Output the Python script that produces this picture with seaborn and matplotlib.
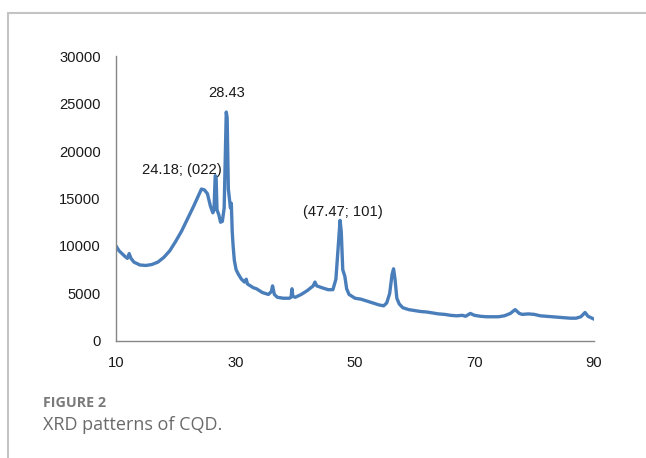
import matplotlib
matplotlib.use("Agg")
import matplotlib.pyplot as plt
from matplotlib.lines import Line2D
import seaborn as sns
import pandas as pd

two_theta = [10.0, 10.5, 11.0, 11.5, 11.9, 12.2, 12.5, 13.0, 14.0, 15.0, 16.0, 17.0, 18.0, 19.0,
             20.0, 21.0, 22.0, 23.0, 23.8, 24.3, 24.8, 25.3, 25.8, 26.2, 26.4, 26.6, 26.75, 26.9,
             27.2, 27.5, 27.8, 28.1, 28.3, 28.45, 28.6, 28.8, 29.0, 29.15, 29.3, 29.45, 29.6, 29.8,
             30.1, 30.5, 31.0, 31.5, 31.8, 32.0, 32.5, 33.0, 33.5, 34.0, 34.5, 35.0, 35.5, 36.0,
             36.2, 36.5, 37.0, 38.0, 39.0, 39.3, 39.45, 39.6, 40.0, 41.0, 42.0, 43.0, 43.3, 43.6,
             44.5, 45.5, 46.3, 46.8, 47.2, 47.5, 47.7, 47.95, 48.3, 48.6, 49.0, 50.0, 51.0, 52.0,
             53.0, 54.0, 54.8, 55.3, 55.8, 56.2, 56.45, 56.7, 57.0, 57.4, 58.0, 59.0, 60.0, 61.0,
             62.0, 63.0, 64.0, 65.0, 66.0, 67.0, 68.0, 68.5, 69.3, 70.0, 71.0, 72.0, 73.0, 74.0,
             75.0, 76.0, 76.8, 77.5, 78.0, 79.0, 80.0, 81.0, 82.0, 83.0, 84.0, 85.0, 86.0, 87.0,
             87.8, 88.5, 89.0, 89.5, 90.0]
intensity = [10000, 9500, 9200, 8900, 8700, 9200, 8700, 8300, 8000, 7950, 8050, 8300, 8800, 9500,
             10500, 11600, 12900, 14200, 15300, 16000, 15900, 15500, 14200, 13500, 13800, 17400, 17300, 13800,
             13300, 12500, 12600, 14000, 20000, 24100, 23500, 16000, 14800, 14000, 14500, 11500, 10000, 8500,
             7500, 7000, 6500, 6200, 6500, 6000, 5800, 5600, 5500, 5300, 5100, 5000, 4900, 5200,
             5800, 4900, 4600, 4500, 4500, 4600, 5500, 4700, 4600, 4900, 5300, 5800, 6200, 5800,
             5600, 5400, 5400, 6500, 10000, 12700, 11500, 7500, 6800, 5500, 4900, 4500, 4400, 4200,
             4000, 3800, 3700, 4000, 5000, 7000, 7600, 6500, 4500, 3900, 3500, 3300, 3200, 3100,
             3050, 2950, 2850, 2800, 2700, 2650, 2700, 2600, 2900, 2700, 2600, 2550, 2550, 2550,
             2650, 2900, 3300, 2900, 2800, 2850, 2800, 2650, 2600, 2550, 2500, 2450, 2400, 2400,
             2550, 3000, 2600, 2450, 2300]

x_ticks = [10, 30, 50, 70, 90]
y_ticks = [0, 5000, 10000, 15000, 20000, 25000, 30000]

labels = ["28.43", "24.18; (022)", "(47.47; 101)"]
label_x = [28.43, 20.95, 47.96]
label_y = [26100, 18000, 13580]

sns.set_style("white")
plt.rcParams["font.family"] = ["Liberation Sans", "DejaVu Sans"]

df = pd.DataFrame({"two_theta": two_theta, "intensity": intensity})

fig = plt.figure(figsize=(6.46, 4.58), dpi=100)
ax = fig.add_axes([0.1796, 0.2555, 0.7399, 0.6222])

sns.lineplot(data=df, x="two_theta", y="intensity", ax=ax, color="#4A7EBB",
             linewidth=2.4, estimator=None, sort=False)

ax.set_xlim(10, 90)
ax.set_ylim(0, 30000)
ax.set_xticks(x_ticks)
ax.set_yticks(y_ticks)
ax.set_xticklabels([str(v) for v in x_ticks])
ax.set_yticklabels([str(v) for v in y_ticks])
ax.set_xlabel("")
ax.set_ylabel("")

for s in ["top", "right"]:
    ax.spines[s].set_visible(False)
for s in ["left", "bottom"]:
    ax.spines[s].set_color("#868686")
    ax.spines[s].set_linewidth(1.0)

ax.tick_params(axis="both", which="major", direction="out", length=4, width=1.0,
               color="#868686", labelsize=10.6, labelcolor="#1a1a1a")
ax.tick_params(axis="y", pad=7)
ax.tick_params(axis="x", pad=7)
ax.grid(False)

for t, xx, yy in zip(labels, label_x, label_y):
    ax.text(xx, yy, t, ha="center", va="center", fontsize=10.6, color="#1a1a1a")

# outer frame lines
fig.add_artist(Line2D([8 / 646, 1.0], [1 - 13 / 458, 1 - 13 / 458], color="#c4c4c4", linewidth=1.5))
fig.add_artist(Line2D([8 / 646, 8 / 646], [0, 1 - 13 / 458], color="#c4c4c4", linewidth=1.5))

fig.text(43 / 646, 1 - 407 / 458, "FIGURE 2", family=["Open Sans", "DejaVu Sans"],
         fontsize=10.3, fontweight="bold", color="#7a7a7a", ha="left", va="baseline")
fig.text(43 / 646, 1 - 430 / 458, "XRD patterns of CQD.", family=["Open Sans", "DejaVu Sans"],
         fontsize=13, color="#6a6a6a", ha="left", va="baseline")

fig.savefig("out.png", dpi=100)
